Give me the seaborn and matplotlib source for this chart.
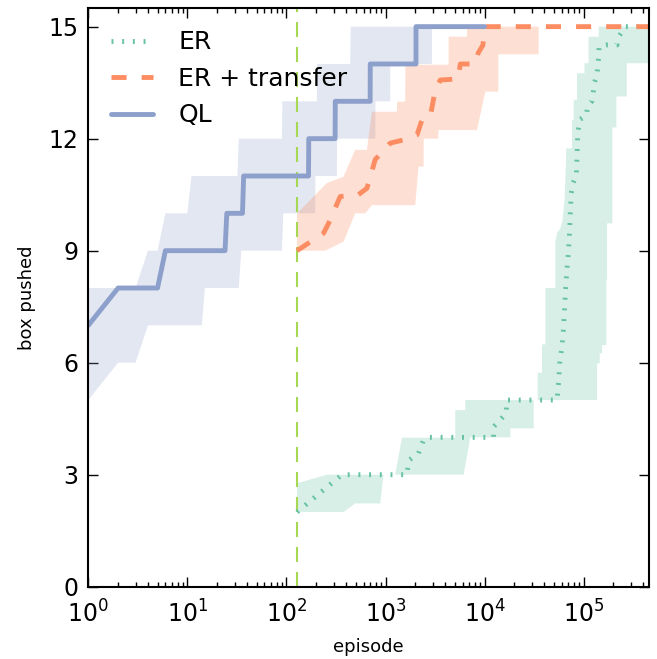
import numpy as np
import pandas as pd
import seaborn as sns
import matplotlib
matplotlib.use('Agg')
from matplotlib import pyplot as plt

# episode where ER starts learning (buffer filled)
start_ep = 128

# QL
ql_ep = [1, 2, 5, 6, 24, 25, 36, 37, 167, 168, 310, 311, 700, 701, 2030, 2031, 10000]
ql_val = [7, 8, 8, 9, 9, 10, 10, 11, 11, 12, 12, 13, 13, 14, 14, 15, 15]
ql_hi_ep = [1, 3, 4, 5, 6, 10, 11, 32, 33, 90, 91, 203, 204, 440, 445, 10000]
ql_hi = [8, 8, 9, 9, 10, 10, 11, 11, 12, 12, 13, 13, 14, 14, 15, 15]
ql_lo_ep = [1, 2, 3, 4, 14, 15, 33, 35, 90, 93, 195, 196, 323, 324, 790, 791, 1115, 1116, 2940, 2950, 10000]
ql_lo = [5, 6, 6, 7, 7, 8, 8, 9, 9, 10, 10, 11, 11, 12, 12, 13, 13, 14, 14, 15, 15]

# ER + transfer
tr_ep = [128, 237, 266, 349, 533, 649, 787, 1115, 1710, 2080, 2330, 2830, 3180, 3570, 5400, 5690, 8060, 8640, 9600, 10200, 460000]
tr_val = [9.0, 9.47, 9.73, 10.45, 10.5, 10.67, 11.44, 11.88, 12.0, 12.1, 12.5, 12.59, 13.31, 13.57, 13.6, 14.0, 14.0, 14.3, 14.5, 15.0, 15.0]
tr_hi_ep = [128, 256, 377, 494, 649, 729, 1300, 1310, 1580, 1590, 4330, 4340, 6640, 6650, 35100]
tr_hi = [10.0, 10.81, 10.98, 11.7, 11.7, 12.72, 12.72, 12.99, 12.99, 13.98, 13.98, 14.73, 14.73, 15.0, 15.0]
tr_lo_ep = [128, 246, 377, 494, 624, 729, 1995, 2155, 2420, 2430, 3405, 3415, 8380, 10170, 13750, 13760, 35100]
tr_lo = [9.0, 9.0, 9.24, 10.0, 10.0, 10.22, 10.22, 11.25, 11.25, 12.0, 12.0, 12.23, 12.23, 13.26, 13.26, 14.26, 14.26]

# ER
er_ep = [128, 363, 1645, 1680, 1750, 2150, 2420, 2620, 12300, 12400, 16500, 16800,
         53900, 55900, 57300, 60600, 62800, 64300, 65800, 67900, 70500, 72200, 73400,
         75000, 78000, 84400, 85700, 86900, 88900, 92600, 106400, 110000, 121600, 125000,
         128300, 136500, 139000, 141900, 143000, 172200, 217400, 225700, 263900, 460000]
er_val = [2.0, 3.0, 3.0, 3.2, 3.4, 3.57, 3.93, 4.0, 4.0, 4.29, 4.64, 5.0,
          5.0, 5.49, 5.98, 6.47, 6.96, 7.5, 7.99, 8.53, 9.02, 9.54, 10.06,
          10.54, 10.8, 11.02, 11.52, 12.01, 12.28, 12.52, 12.62, 12.89, 13.01, 13.23,
          13.5, 13.71, 13.95, 14.2, 14.47, 14.51, 14.51, 14.73, 15.0, 15.0]
er_hi_ep = [128, 256, 1253, 1465, 5060, 5060, 6380, 6380, 34300, 34300, 38000, 38000,
            41100, 41100, 51800, 51800, 53900, 58200, 61000, 64300, 65500, 66800, 76400,
            76400, 79300, 79300, 85700, 85700, 102000, 102000, 112000, 112000, 142000,
            142000, 460000]
er_hi = [2.77, 3.0, 3.0, 3.99, 3.99, 4.73, 4.73, 5.0, 5.0, 5.73, 5.73, 6.49,
         6.49, 8.0, 8.0, 9.24, 9.47, 9.6, 9.8, 10.36, 11.0, 11.74, 11.74,
         12.5, 12.5, 13.04, 13.04, 13.75, 13.75, 14.02, 14.02, 14.73, 14.73,
         15.0, 15.0]
er_lo_ep = [128, 377, 494, 884, 955, 6140, 7180, 18200, 18200, 31300, 31300, 136500,
            136500, 145200, 145200, 153500, 153500, 169500, 169500, 172200, 172200,
            195000, 195000, 213900, 213900, 272000, 272000, 460000]
er_lo = [2.0, 2.0, 2.23, 2.23, 3.0, 3.0, 4.0, 4.0, 4.24, 4.24, 5.0, 5.0,
         5.98, 5.98, 6.25, 6.25, 6.47, 6.47, 8.22, 8.22, 9.73,
         9.73, 12.3, 12.3, 13.13, 13.13, 14.02, 14.02]

sns.set_style("ticks", {'text.color': 'black', 'axes.labelcolor': 'black',
                        'xtick.color': 'black', 'ytick.color': 'black',
                        'axes.edgecolor': 'black'})
plt.rcParams['font.family'] = ['DejaVu Sans']
plt.rcParams['mathtext.fontset'] = 'dejavusans'

pal = sns.color_palette("Set2")
c_er, c_tr, c_ql, c_v = pal[0], pal[1], pal[2], pal[4]

fig = plt.figure(figsize=(6.57, 6.59), dpi=100)
ax = fig.add_axes([0.1344, 0.1097, 0.8539, 0.8782])

# bands (upper edge forward, lower edge back)
ax.fill(ql_hi_ep + ql_lo_ep[::-1], ql_hi + ql_lo[::-1], color=c_ql, alpha=0.25, lw=0)
ax.fill(er_hi_ep + er_lo_ep[::-1], er_hi + er_lo[::-1], color=c_er, alpha=0.26, lw=0)
ax.fill(tr_hi_ep + tr_lo_ep[::-1], tr_hi + tr_lo[::-1], color=c_tr, alpha=0.28, lw=0)

ax.axvline(start_ep, color=c_v, lw=1.5, linestyle=(0, (7.2, 4.8)))

sns.lineplot(x=er_ep, y=er_val, ax=ax, color=c_er, lw=3.5, estimator=None, sort=False,
             linestyle=(0, (0.4, 1.8)), label='ER')
sns.lineplot(x=tr_ep, y=tr_val, ax=ax, color=c_tr, lw=3.5, estimator=None, sort=False,
             linestyle=(0, (3.1, 3.1)), label='ER + transfer')
sns.lineplot(x=ql_ep, y=ql_val, ax=ax, color=c_ql, lw=3.5, estimator=None, sort=False,
             label='QL')

ax.set_xscale('log')
ax.set_xlim(1, 4.6e5)
ax.set_ylim(0, 15.5)
ax.set_yticks([0, 3, 6, 9, 12, 15])

ax.tick_params(which='both', direction='in', top=True, right=True, labelsize=17,
               width=1, colors='black')
ax.tick_params(axis='x', which='both', pad=10)
ax.tick_params(axis='y', which='both', pad=7)
ax.tick_params(which='major', length=7)
ax.tick_params(which='minor', length=3.5)
for s in ax.spines.values():
    s.set_linewidth(1.5)
    s.set_color('black')

ax.set_xlabel('episode', fontsize=13, labelpad=7, color='black')
ax.set_ylabel('box pushed', fontsize=13, labelpad=9, color='black')

leg = ax.legend(loc='upper left', frameon=False, fontsize=18, handlelength=1.7,
                handletextpad=1.0, labelspacing=0.5)
for t in leg.get_texts():
    t.set_color('black')

fig.savefig('out.png', dpi=100)
